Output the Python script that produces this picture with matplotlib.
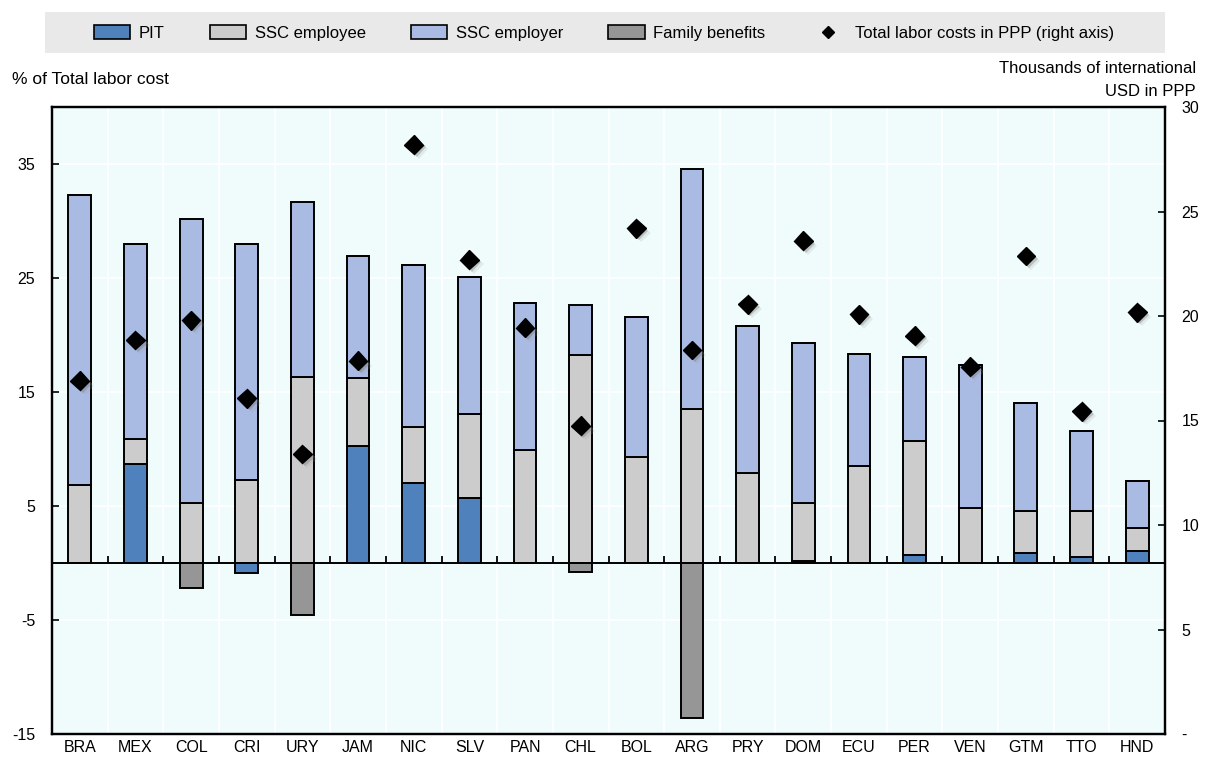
import numpy as np
import matplotlib
matplotlib.use("Agg")
import matplotlib.pyplot as plt
import matplotlib.patheffects as pe
from matplotlib.patches import Rectangle, Patch
from matplotlib.lines import Line2D
from matplotlib.ticker import FuncFormatter

countries = ["BRA", "MEX", "COL", "CRI", "URY", "JAM", "NIC", "SLV", "PAN", "CHL",
             "BOL", "ARG", "PRY", "DOM", "ECU", "PER", "VEN", "GTM", "TTO", "HND"]
pit = [0, 8.65, 0, -0.9, 0, 10.3, 7.0, 5.67, 0, 0,
       0, 0, 0, 0.15, 0, 0.73, 0, 0.85, 0.55, 1.08]
ssc_employee = [6.84, 2.25, 5.3, 7.3, 16.35, 5.9, 4.9, 7.4, 9.9, 18.25,
                9.3, 13.5, 7.92, 5.15, 8.5, 9.97, 4.8, 3.71, 4.01, 2.02]
ssc_employer = [25.46, 17.1, 24.9, 20.7, 15.35, 10.7, 14.2, 11.99, 12.9, 4.35,
                12.25, 21.1, 12.88, 14.0, 9.8, 7.4, 12.6, 9.44, 7.04, 4.1]
family = [0, 0, -2.2, 0, -4.6, 0, 0, 0, 0, -0.76,
          0, -13.6, 0, 0, 0, 0, 0, 0, 0, 0]
total_ppp = [16.9, 18.85, 19.8, 16.06, 13.4, 17.86, 28.2, 22.7, 19.44, 14.75,
             24.2, 18.37, 20.56, 23.6, 20.08, 19.06, 17.57, 22.87, 15.44, 20.18]

series = [("PIT", pit, "#4F81BD"),
          ("SSC employee", ssc_employee, "#CCCCCC"),
          ("SSC employer", ssc_employer, "#A9BAE3"),
          ("Family benefits", family, "#969696")]

plt.rcParams["font.family"] = ["Liberation Sans Narrow", "Liberation Sans", "DejaVu Sans"]
plt.rcParams["font.size"] = 11.5
plt.rcParams["axes.unicode_minus"] = False

fig = plt.figure(figsize=(12.09, 7.6), dpi=100)
ax = fig.add_axes([52 / 1209, 1 - 734 / 760, (1165 - 52) / 1209, (734 - 107) / 760])
ax.set_facecolor("#F0FCFC")

x = np.arange(len(countries))
pos = np.zeros(len(countries))
neg = np.zeros(len(countries))
for name, vals, col in series:
    v = np.array(vals, dtype=float)
    bottom = np.where(v >= 0, pos, neg)
    ax.bar(x, v, 0.41, bottom=bottom, color=col, edgecolor="black", linewidth=1.4, zorder=3)
    pos = pos + np.where(v > 0, v, 0)
    neg = neg + np.where(v < 0, v, 0)

ax.set_xlim(-0.5, len(countries) - 0.5)
ax.set_ylim(-15, 40)
ax.set_yticks([-15, -5, 5, 15, 25, 35])
ax.set_xticks(x)
ax.set_xticklabels(countries)
ax.set_xticks(np.arange(len(countries) + 1) - 0.5, minor=True)
ax.tick_params(axis="x", which="both", length=0, pad=4)
ax.tick_params(axis="y", direction="in", length=5, width=1.2, pad=12)
ax.set_axisbelow(True)
ax.grid(axis="y", which="major", color="white", linewidth=1.3)
ax.grid(axis="x", which="minor", color="white", linewidth=1.3)
for s in ax.spines.values():
    s.set_linewidth(1.6)

# zero line with small separators between countries
bounds = np.arange(len(countries) + 1) - 0.5
ax.axhline(0, color="black", linewidth=1.4, zorder=4)
ax.plot(bounds, np.zeros(len(bounds)), linestyle="none", marker=2, markersize=5,
        markeredgewidth=1.3, color="black", zorder=4, clip_on=False)

ax2 = ax.twinx()
ax2.set_ylim(0, 30)
ax2.set_yticks(np.arange(0, 31, 5))
ax2.yaxis.set_major_formatter(FuncFormatter(lambda v, p: "-" if v == 0 else f"{v:.0f}"))
ax2.tick_params(axis="y", direction="in", length=5, width=1.2, pad=12)
for s in ax2.spines.values():
    s.set_linewidth(1.6)

shadow = [pe.SimplePatchShadow(offset=(3.5, -3.5), shadow_rgbFace="#999999", alpha=0.18),
          pe.SimplePatchShadow(offset=(2, -2), shadow_rgbFace="#666666", alpha=0.3),
          pe.Normal()]
ax2.plot(x, total_ppp, linestyle="none", marker="D", markersize=9.5, color="black",
         zorder=5, path_effects=shadow)

fig.text(12 / 1209, 1 - 80 / 760, "% of Total labor cost", ha="left", va="center",
         fontsize=12.5)
fig.text(1196 / 1209, 1 - 80 / 760, "Thousands of international\nUSD in PPP",
         ha="right", va="center", linespacing=1.6, fontsize=12)

# legend strip
fig.patches.append(Rectangle((45 / 1209, 1 - 53 / 760), (1165 - 45) / 1209, 41 / 760,
                             transform=fig.transFigure, facecolor="#E9E9E9",
                             edgecolor="none", zorder=0))
handles = [Patch(facecolor=col, edgecolor="black", linewidth=1.2, label=name)
           for name, _, col in series]
handles.append(Line2D([], [], linestyle="none", marker="D", markersize=6, color="black",
                      label="Total labor costs in PPP (right axis)"))
fig.legend(handles=handles, loc="center", bbox_to_anchor=(604 / 1209, 1 - 33 / 760),
           ncol=5, frameon=False, handlelength=2.2, handleheight=0.9,
           columnspacing=2.7, handletextpad=0.5, fontsize=12)

fig.savefig("out.png", dpi=100)
